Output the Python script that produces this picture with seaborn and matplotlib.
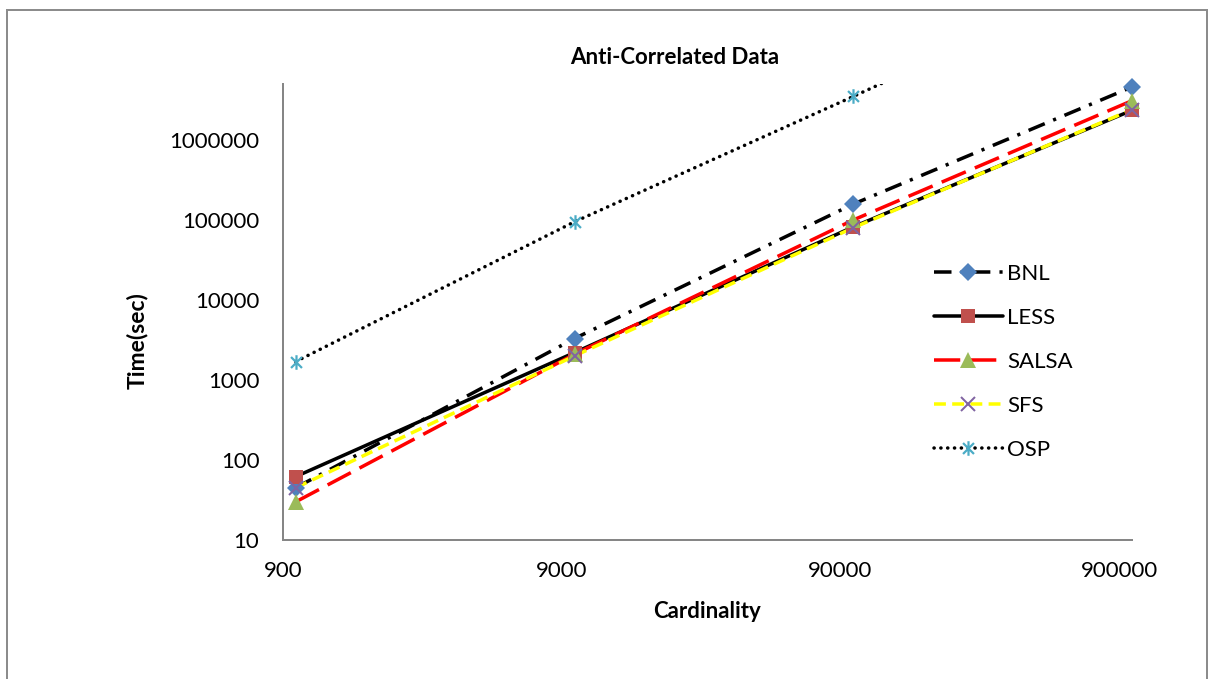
import numpy as np
import pandas as pd
import matplotlib
matplotlib.use("Agg")
import matplotlib.pyplot as plt
from matplotlib.lines import Line2D
from matplotlib.path import Path
from matplotlib.patches import Rectangle
from matplotlib.ticker import FixedLocator, FixedFormatter, NullLocator
import seaborn as sns

# ---- data -------------------------------------------------------------
cardinality = [1000, 10000, 100000, 1000000]
bnl = [45, 3300, 158000, 4600000]
less = [62, 2200, 82000, 2350000]
salsa = [30, 2100, 100000, 3100000]
sfs = [45, 2000, 80000, 2400000]
osp = [1700, 95000, 3500000, 140000000]

series_names = ["BNL", "LESS", "SALSA", "SFS", "OSP"]
series_values = [bnl, less, salsa, sfs, osp]

x_ticks = [900, 9000, 90000, 900000]
x_tick_labels = ["900", "9000", "90000", "900000"]
y_ticks = [10, 100, 1000, 10000, 100000, 1000000]
y_tick_labels = ["10", "100", "1000", "10000", "100000", "1000000"]

title = "Anti-Correlated Data"
x_label = "Cardinality"
y_label = "Time(sec)"

# ---- styling ----------------------------------------------------------
sns.set_theme(style="white")
plt.rcParams["font.family"] = ["Lato", "DejaVu Sans"]

W, H, DPI = 1208, 679, 100
px = 72.0 / DPI  # one pixel in points

asterisk = Path(
    [(0, -1), (0, 1), (-0.75, -0.75), (0.75, 0.75), (-0.75, 0.75), (0.75, -0.75)],
    [Path.MOVETO, Path.LINETO, Path.MOVETO, Path.LINETO, Path.MOVETO, Path.LINETO],
)

styles = {
    "BNL": dict(color="black", dashes=(5.0, 2.6, 0.9, 2.6), cap="butt",
                marker="D", mcolor="#4F81BD", msize=9.5, mew=0),
    "LESS": dict(color="black", dashes=None, cap="butt",
                 marker="s", mcolor="#C0504D", msize=10.5, mew=0),
    "SALSA": dict(color="#FF0000", dashes=(7.5, 2.8), cap="butt",
                  marker="^", mcolor="#9BBB59", msize=11.0, mew=0),
    "SFS": dict(color="#FFFF00", dashes=(3.4, 1.8), cap="butt",
                marker="x", mcolor="#8064A2", msize=10.0, mew=2 * px),
    "OSP": dict(color="black", dashes=(0.05, 1.9), cap="round",
                marker=asterisk, mcolor="#4BACC6", msize=10.5, mew=2.2 * px),
}
LW = 3.5 * px
FS = 16

fig = plt.figure(figsize=(W / DPI, H / DPI), dpi=DPI)
fig.patch.set_facecolor("white")

ax_left, ax_right, ax_top, ax_bottom = 283, 1132, 84, 540
ax = fig.add_axes([ax_left / W, 1 - ax_bottom / H,
                   (ax_right - ax_left) / W, (ax_bottom - ax_top) / H])
ax.set_facecolor("white")

ax.set_xscale("log")
ax.set_yscale("log")
ax.set_xlim(900, 1000000)
ax.set_ylim(10, 10 ** 6.7)

ymin, ymax = ax.get_ylim()
handles = []
for name, vals in zip(series_names, series_values):
    st = styles[name]
    df = pd.DataFrame({"Cardinality": cardinality, "Time": vals})

    # connecting line, clipped to the plot area
    sns.lineplot(data=df, x="Cardinality", y="Time", ax=ax, color=st["color"],
                 linewidth=LW, estimator=None, sort=False, zorder=2)
    line = ax.lines[-1]
    if st["dashes"] is not None:
        line.set_dashes(st["dashes"])
    line.set_dash_capstyle(st["cap"])
    line.set_solid_capstyle("butt")

    # markers for the points inside the value range
    vis = df[(df["Time"] >= ymin) & (df["Time"] <= ymax)]
    sns.lineplot(data=vis, x="Cardinality", y="Time", ax=ax, color=st["mcolor"],
                 linestyle="none", marker=st["marker"], markersize=st["msize"],
                 markerfacecolor=st["mcolor"], markeredgecolor=st["mcolor"],
                 markeredgewidth=st["mew"], estimator=None, sort=False,
                 clip_on=False, zorder=3)

    h = Line2D([], [], color=st["color"], linewidth=LW,
               marker=st["marker"], markersize=st["msize"],
               markerfacecolor=st["mcolor"], markeredgecolor=st["mcolor"],
               markeredgewidth=st["mew"])
    if st["dashes"] is not None:
        h.set_dashes(st["dashes"])
    h.set_dash_capstyle(st["cap"])
    handles.append(h)

# ---- axes -------------------------------------------------------------
ax.xaxis.set_major_locator(FixedLocator(x_ticks))
ax.xaxis.set_major_formatter(FixedFormatter(x_tick_labels))
ax.xaxis.set_minor_locator(NullLocator())
ax.yaxis.set_major_locator(FixedLocator(y_ticks))
ax.yaxis.set_major_formatter(FixedFormatter(y_tick_labels))
ax.yaxis.set_minor_locator(NullLocator())
ax.tick_params(axis="both", length=0, labelsize=FS, colors="black")
ax.tick_params(axis="y", pad=17)
ax.tick_params(axis="x", pad=15)
ax.grid(False)

for side in ("top", "right"):
    ax.spines[side].set_visible(False)
for side in ("left", "bottom"):
    ax.spines[side].set_color("#868686")
    ax.spines[side].set_linewidth(2 * px)

ax.set_xlabel(x_label, fontsize=FS, fontweight="bold", color="black")
ax.xaxis.set_label_coords(0.5, (ax_bottom - 612) / (ax_bottom - ax_top))
ax.xaxis.label.set_va("center")
ax.set_ylabel(y_label, fontsize=FS + 0.5, fontweight="bold", color="black")
ax.yaxis.set_label_coords((137 - ax_left) / (ax_right - ax_left),
                          (ax_bottom - 341) / (ax_bottom - ax_top))
ax.yaxis.label.set_va("center")

fig.text(675 / W, 1 - 58 / H, title, fontsize=FS, fontweight="bold",
         ha="center", va="center", color="black")

leg = ax.legend(handles, series_names, loc="upper left",
                bbox_to_anchor=(925 / W, 1 - 255 / H),
                bbox_transform=fig.transFigure, frameon=False,
                fontsize=FS, handlelength=3.1, handletextpad=0.2,
                labelspacing=1.08, numpoints=1, borderaxespad=0)
for t in leg.get_texts():
    t.set_color("black")

# chart area border
fig.add_artist(Rectangle((7 / W, -0.05), 1200 / W, 1.05 - 10 / H,
                         transform=fig.transFigure, fill=False,
                         edgecolor="#8C8C8C", linewidth=2 * px))

fig.savefig("out.png", dpi=DPI, facecolor="white")
